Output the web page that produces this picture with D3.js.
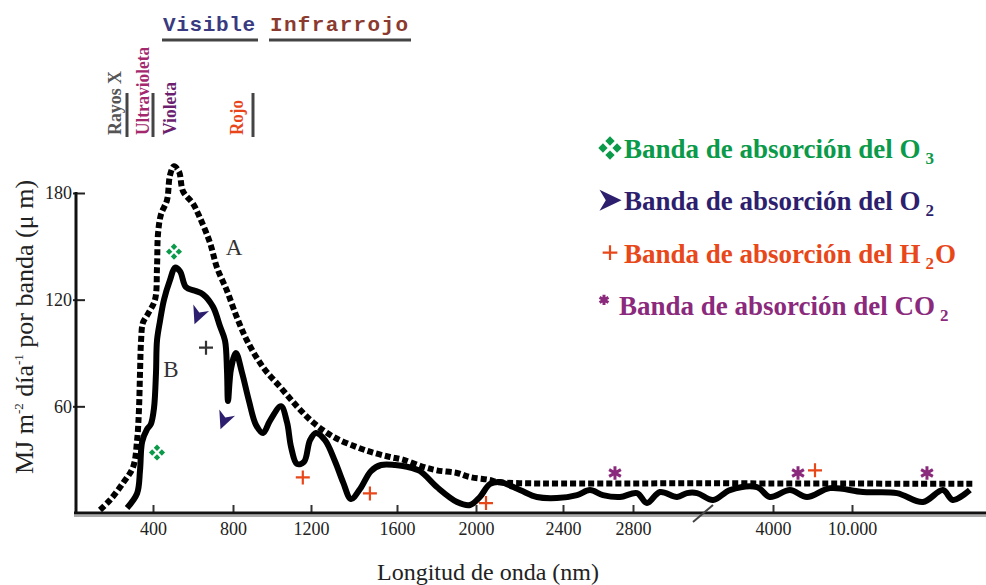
<!DOCTYPE html>
<html>
<head>
<meta charset="utf-8">
<script src="https://cdn.jsdelivr.net/npm/d3@7"></script>
<style>
  body { margin: 0; background: #fff; }
  svg { font-family: "Liberation Serif", "Times New Roman", serif; }
</style>
</head>
<body>
<svg width="986" height="585"></svg>
<script>
// wavelength ticks (nm) and energy ticks
const tickNm = [400, 800, 1200, 1600, 2000, 2400, 2800, 4000, 10000];
const yTicks = [60, 120, 180];

// curve A: top of atmosphere (dotted), [nm, MJ m-2 dia-1]
const curveA = [
  [200, 1.7], [238, 7.3], [287, 16.9], [325, 25.9], [340, 41], [347, 58], [351, 79],
  [355, 97], [362, 107], [381, 112], [410, 120], [420, 138], [425, 157], [440, 168],
  [470, 176], [485, 190], [505, 195], [530, 192], [550, 181], [600, 174], [635, 166],
  [685, 152], [720, 138], [770, 125], [820, 110], [872, 97], [954, 82], [1041, 71],
  [1128, 60], [1209, 51], [1302, 43], [1414, 37], [1488, 34], [1567, 31.5], [1630, 30],
  [1732, 26], [1802, 24], [1904, 22.5], [1970, 20.2], [2064, 18.6], [2097, 17.4],
  [2200, 16.8], [2400, 16.6], [2800, 16.6], [3400, 16.8], [4000, 16.6], [7000, 16.6],
  [10000, 16.6], [15000, 16.4], [19200, 16.4]
];

// curve B: at ground level (solid)
const curveB = [
  [302, 2.8], [340, 11], [351, 24], [359, 40], [377, 47], [392, 50], [405, 59], [415, 79],
  [420, 97], [435, 108], [455, 120], [485, 131], [510, 138], [535, 136], [565, 127],
  [610, 125], [650, 123], [700, 116], [735, 105], [760, 97], [770, 80], [775, 63],
  [790, 81], [815, 90], [846, 79], [882, 63], [918, 49.5], [954, 45], [990, 52],
  [1046, 60], [1077, 51], [1098, 37], [1128, 27.6], [1164, 28.7], [1195, 41], [1223, 45],
  [1265, 41], [1312, 29], [1349, 17.4], [1386, 7.9], [1428, 13.5], [1479, 23.6],
  [1526, 27], [1591, 27], [1651, 26], [1716, 23.6], [1802, 14.6], [1904, 6.2], [1970, 4.5],
  [2018, 9], [2064, 16.3], [2110, 17.4], [2202, 12.9], [2280, 9], [2372, 8.4], [2480, 10.1],
  [2554, 12.9], [2628, 10.1], [2726, 9], [2834, 11.2], [2920, 5.6], [3031, 11.8],
  [3177, 9], [3263, 11.2], [3349, 11.2], [3486, 7.3], [3631, 12.9], [3863, 14.6],
  [3974, 9], [5290, 12.9], [6580, 9], [8330, 14], [10835, 11.8], [13415, 11.2],
  [15390, 6.2], [16910, 12.9], [17670, 7.3], [18960, 12.9]
];

// absorption band marks
const o3Marks = [[505, 147], [420, 34]];
const o2Marks = [[625, 111], [755, 52]];
const h2oMarks = [[1158, 20], [1474, 11], [2046, 5.6], [7190, 24]];
const darkPlus = [[665, 93]];
const co2Marks = [[2697, 22.5], [5900, 22.5], [15700, 22.5]];

const curveLabels = [["A", 805, 145], ["B", 490, 76.5]];

const legendLabels = [
  "Banda de absorción del O_3",
  "Banda de absorción del O_2",
  "Banda de absorción del H_2O",
  "Banda de absorción del CO_2"
];
const legendKinds = ["o3", "o2", "h2o", "co2"];

const bandTop = ["Visible", "Infrarrojo"];
const bandSide = ["Rayos X", "Ultravioleta", "Violeta", "Rojo"];

const colors = {
  o3: "#0a9a4a", o2: "#2e1f6e", h2o: "#e8471a", co2: "#8b2a7c", dark: "#333"
};

function drawChart() {
  let svg = d3.select("svg");

  const left = 76, bottom = 513;

  // the wavelength axis is stretched unevenly in the original figure
  let x = d3.scaleLinear()
    .domain([200, 400, 800, 1200, 1600, 2000, 2400, 2800, 4000, 10000, 19200])
    .range([100, 153, 233, 311, 397, 476, 563, 633, 773, 852, 973]);
  let y = d3.scaleLinear().domain([0, 180]).range([bottom, 193]);

  let line = d3.line()
    .x(d => x(d[0]))
    .y(d => y(d[1]))
    .curve(d3.curveCatmullRom.alpha(0.5));

  // axes
  let xAxis = d3.axisBottom(x)
    .tickValues(tickNm)
    .tickSize(-8)
    .tickPadding(9)
    .tickFormat(d => d >= 10000 ? d3.format(",")(d).replace(",", ".") : String(d));

  let gx = svg.append("g")
    .attr("transform", `translate(0,${bottom})`)
    .call(xAxis);
  gx.select(".domain").remove();
  gx.selectAll("line").attr("stroke", "#333").attr("stroke-width", 2);
  gx.selectAll("text")
    .attr("font-family", "Liberation Serif")
    .attr("font-size", 18)
    .attr("fill", "#222");

  let yAxis = d3.axisLeft(y)
    .tickValues(yTicks)
    .tickSize(-9)
    .tickPadding(4);

  let gy = svg.append("g")
    .attr("transform", `translate(${left},0)`)
    .call(yAxis);
  gy.select(".domain").remove();
  gy.selectAll("line").attr("x1", -3).attr("stroke", "#222").attr("stroke-width", 2);
  gy.selectAll("text")
    .attr("font-family", "Liberation Serif")
    .attr("font-size", 18)
    .attr("fill", "#222");

  svg.append("line")
    .attr("x1", left - 2).attr("x2", 986)
    .attr("y1", bottom + 3).attr("y2", bottom + 3)
    .attr("stroke", "#aaa").attr("stroke-width", 2);
  svg.append("line")
    .attr("x1", left - 2).attr("x2", 986)
    .attr("y1", bottom).attr("y2", bottom)
    .attr("stroke", "#111").attr("stroke-width", 3);
  svg.append("line")
    .attr("x1", left).attr("x2", left)
    .attr("y1", y(180) - 1).attr("y2", bottom)
    .attr("stroke", "#111").attr("stroke-width", 3);

  // axis break between 2800 and 4000
  let bx = x(3400);
  svg.append("line")
    .attr("x1", bx - 10).attr("y1", bottom + 9)
    .attr("x2", bx + 10).attr("y2", bottom - 8)
    .attr("stroke", "#444").attr("stroke-width", 2);

  // curves
  svg.append("path")
    .datum(curveA)
    .attr("d", line)
    .attr("fill", "none")
    .attr("stroke", "#000")
    .attr("stroke-width", 6)
    .attr("stroke-dasharray", "6 3");

  svg.append("path")
    .datum(curveB)
    .attr("d", line)
    .attr("fill", "none")
    .attr("stroke", "#000")
    .attr("stroke-width", 6)
    .attr("stroke-linejoin", "round");

  svg.selectAll(".curve-label")
    .data(curveLabels)
    .enter().append("text")
      .attr("x", d => x(d[1]))
      .attr("y", d => y(d[2]))
      .attr("text-anchor", "middle")
      .attr("font-size", 23)
      .attr("fill", "#333")
      .text(d => d[0]);

  // marks
  function mark(g, kind, s, color) {
    if (kind === "o3") {
      [[0, -1], [1, 0], [0, 1], [-1, 0]].forEach(o => {
        g.append("path")
          .attr("transform", `translate(${o[0] * 4.4 * s},${o[1] * 4.4 * s}) rotate(45)`)
          .attr("d", d3.symbol(d3.symbolSquare, 17 * s * s)())
          .attr("fill", color);
      });
    } else if (kind === "o2") {
      g.append("path")
        .attr("d", "M-10,-10L11,0L-10,10L-4,0Z")
        .attr("transform", `scale(${s})`)
        .attr("fill", color);
    } else if (kind === "h2o") {
      g.append("path")
        .attr("d", `M${-7 * s},0H${7 * s}M0,${-7 * s}V${7 * s}`)
        .attr("stroke", color)
        .attr("stroke-width", 2.2);
    } else {
      g.append("path")
        .attr("d", d3.symbol(d3.symbolAsterisk, 90 * s * s)())
        .attr("stroke", color)
        .attr("stroke-width", 3);
    }
  }

  function placeMarks(data, kind, color, s, rot) {
    data.forEach(d => {
      let g = svg.append("g")
        .attr("transform", `translate(${x(d[0])},${y(d[1])}) rotate(${rot || 0})`);
      mark(g, kind, s, color);
    });
  }

  placeMarks(o3Marks, "o3", colors.o3, 1.1);
  placeMarks(o2Marks, "o2", colors.o2, 0.85, 112);
  placeMarks(h2oMarks, "h2o", colors.h2o, 1);
  placeMarks(darkPlus, "h2o", colors.dark, 1);
  placeMarks(co2Marks, "co2", colors.co2, 1.2);

  // legend
  let legend = svg.append("g");
  legendLabels.forEach((label, i) => {
    let ly = 158 + i * 52.3;
    let kind = legendKinds[i];
    let g = legend.append("g")
      .attr("transform", `translate(${kind === "co2" ? 604 : 610},${ly - (kind === "co2" ? 15 : 10)})`);
    mark(g, kind, kind === "o3" ? 1.6 : kind === "co2" ? 0.9 : 1.05, colors[kind]);

    let t = legend.append("text")
      .attr("x", kind === "co2" ? 619 : 624)
      .attr("y", ly)
      .attr("font-weight", "bold")
      .attr("fill", colors[kind]);
    label.split(/_(\d)/).forEach((p, j) => {
      let sub = j % 2 === 1;
      t.append("tspan")
        .text(p)
        .attr("font-size", sub ? 17 : 27)
        .attr("dx", sub ? 5 : (j > 0 ? 1 : 0))
        .attr("dy", sub ? 6 : (j > 0 ? -6 : 0));
    });
  });

  // spectrum region labels at the top
  const topColors = ["#3a3a80", "#8b3a2f"];
  const topX = [163, 270], topW = [92, 138];
  bandTop.forEach((b, i) => {
    svg.append("text")
      .attr("x", topX[i]).attr("y", 31)
      .attr("font-family", "Liberation Mono")
      .attr("font-weight", "bold")
      .attr("font-size", 21)
      .attr("textLength", topW[i])
      .attr("lengthAdjust", "spacing")
      .attr("fill", topColors[i])
      .text(b);
    svg.append("line")
      .attr("x1", topX[i] - 1).attr("x2", topX[i] + topW[i] + 3)
      .attr("y1", 40).attr("y2", 40)
      .attr("stroke", "#444").attr("stroke-width", 3);
  });

  const sideColors = ["#555", "#a3286e", "#6b1f6e", "#e8451a"];
  const sideX = [121, 149, 176, 243], sideW = [64, 88, 53, 35];
  bandSide.forEach((b, i) => {
    svg.append("text")
      .attr("transform", `translate(${sideX[i]},135) rotate(-90)`)
      .attr("font-weight", "bold")
      .attr("font-size", 18)
      .attr("textLength", sideW[i])
      .attr("lengthAdjust", "spacingAndGlyphs")
      .attr("fill", sideColors[i])
      .text(b);
  });
  [127, 153, 253].forEach(bx => {
    svg.append("line")
      .attr("x1", bx).attr("x2", bx)
      .attr("y1", 93).attr("y2", 137)
      .attr("stroke", "#444").attr("stroke-width", 3);
  });

  // axis titles
  svg.append("text")
    .attr("x", 377).attr("y", 580)
    .attr("font-size", 24)
    .attr("fill", "#222")
    .text("Longitud de onda (nm)");

  let yt = svg.append("text")
    .attr("transform", "translate(33,327) rotate(-90)")
    .attr("text-anchor", "middle")
    .attr("font-size", 26)
    .attr("fill", "#222");
  yt.append("tspan").text("MJ m");
  yt.append("tspan").text("-2").attr("font-size", 13).attr("dy", -10);
  yt.append("tspan").text(" día").attr("dy", 10);
  yt.append("tspan").text("-1").attr("font-size", 13).attr("dy", -10);
  yt.append("tspan").text(" por banda (μ m)").attr("dy", 10);
}

drawChart();
</script>
</body>
</html>
